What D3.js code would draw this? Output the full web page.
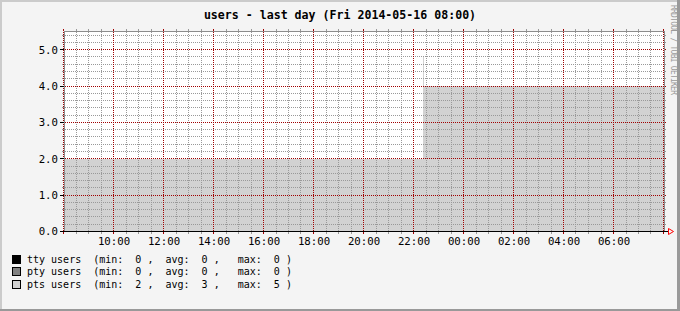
<!DOCTYPE html>
<html lang="en">
<head>
<meta charset="UTF-8">
<title>users - last day</title>
<script src="https://cdn.jsdelivr.net/npm/d3@7"></script>
<style>
    body { margin: 0; background: #fff; }
    svg text { font-family: "DejaVu Sans Mono", monospace; }
</style>
</head>
<body>
<svg id="chart" width="680" height="311"></svg>
<script>
    // samples (step series, value holds until next time)
    var times = ['2014-05-15T08:00', '2014-05-15T22:22', '2014-05-15T22:24:30', '2014-05-16T08:00']
    var ttyUsers = [0, 0, 0, 0]
    var ptyUsers = [0, 0, 0, 0]
    var ptsUsers = [2, 4.8, 4, 4]

    var yTicks = [0, 1, 2, 3, 4, 5]
    var legendNames = ['tty users', 'pty users', 'pts users']
    var legendMin = [0, 0, 2]
    var legendAvg = [0, 0, 3]
    var legendMax = [0, 0, 5]
    var legendColors = ['#000000', '#808080', '#d2d2d2']

    var W = 680, H = 311
    var MINOR = '#999999', MAJOR = '#a00000'
    var svg = d3.select('#chart')

    // canvas + 3d border like rrdtool
    svg.append('rect').attr('width', W).attr('height', H).attr('fill', '#f4f4f4')
    svg.append('rect').attr('x', 0).attr('y', 0).attr('width', W).attr('height', 2).attr('fill', '#cbcbcb')
    svg.append('rect').attr('x', 0).attr('y', 0).attr('width', 2).attr('height', H).attr('fill', '#cbcbcb')
    svg.append('rect').attr('x', 0).attr('y', H - 2).attr('width', W).attr('height', 2).attr('fill', '#999')
    svg.append('rect').attr('x', W - 3).attr('y', 0).attr('width', 3).attr('height', H).attr('fill', '#999')

    var parse = d3.isoParse
    var t0 = parse(times[0]), t1 = parse(times[times.length - 1])
    var x = d3.scaleTime().domain([t0, t1]).range([63.5, 663.5])
    var y = d3.scaleLinear().domain([0, 5.5]).range([231.5, 31.5])

    var rows = times.map(function (t, i) {
        return {t: parse(t), tty: ttyUsers[i], pty: ptyUsers[i], pts: ptsUsers[i]}
    })
    var stack = d3.stack().keys(['tty', 'pty', 'pts'])(rows)

    var g = svg.append('g')
    g.append('rect').attr('x', 64).attr('y', 31).attr('width', 600).attr('height', 200).attr('fill', '#fff')

    var area = d3.area()
        .curve(d3.curveStepAfter)
        .x(function (d) { return x(d.data.t) })
        .y0(function (d) { return y(d[0]) })
        .y1(function (d) { return y(d[1]) })

    g.selectAll('path.series').data(stack).enter().append('path')
        .attr('class', 'series')
        .attr('d', area)
        .attr('fill', function (d, i) { return legendColors[i] })
        .attr('shape-rendering', 'crispEdges')

    // grid
    var minorX = x.ticks(d3.timeMinute.every(30))
    var majorX = x.ticks(d3.timeHour.every(2))
    var minorY = d3.range(0, 5.5001, 0.2).filter(function (v) { return Math.abs(v - Math.round(v)) > 1e-6 })

    var grid = g.append('g').attr('shape-rendering', 'crispEdges')
    function vline(t, color) {
        var px = Math.round(x(t) - 0.5) + 0.5
        grid.append('line').attr('x1', px).attr('x2', px).attr('y1', 32).attr('y2', 231)
            .attr('stroke', color).attr('stroke-dasharray', '1,1')
        grid.append('line').attr('x1', px).attr('x2', px).attr('y1', 29).attr('y2', 31).attr('stroke', color)
        grid.append('line').attr('x1', px).attr('x2', px).attr('y1', 232).attr('y2', 234).attr('stroke', color)
    }
    minorX.forEach(function (t) {
        if (majorX.some(function (m) { return +m === +t })) return
        vline(t, MINOR)
    })
    minorY.forEach(function (v) {
        var py = Math.round(y(v) - 0.5) + 0.5
        grid.append('line').attr('x1', 65).attr('x2', 663).attr('y1', py).attr('y2', py)
            .attr('stroke', MINOR).attr('stroke-dasharray', '1,1')
        grid.append('line').attr('x1', 62).attr('x2', 64).attr('y1', py).attr('y2', py).attr('stroke', MINOR)
        grid.append('line').attr('x1', 664).attr('x2', 666).attr('y1', py).attr('y2', py).attr('stroke', MINOR)
    })
    majorX.forEach(function (t) { vline(t, MAJOR) })
    yTicks.forEach(function (v) {
        var py = Math.round(y(v) - 0.5) + 0.5
        if (v > 0) {
            grid.append('line').attr('x1', 65).attr('x2', 663).attr('y1', py).attr('y2', py)
                .attr('stroke', MAJOR).attr('stroke-dasharray', '1,1')
            grid.append('line').attr('x1', 664).attr('x2', 666).attr('y1', py).attr('y2', py).attr('stroke', MAJOR)
        }
        grid.append('line').attr('x1', 60).attr('x2', 64).attr('y1', py).attr('y2', py).attr('stroke', '#000')
    })

    // frame
    grid.append('path').attr('d', 'M64.5,231V31.5H664.5V231').attr('fill', 'none').attr('stroke', '#8c8c8c')
    grid.append('line').attr('x1', 62).attr('x2', 668).attr('y1', 231.5).attr('y2', 231.5).attr('stroke', '#000')
    svg.append('path').attr('d', 'M668.5,228.5L673.5,231.5L668.5,234.5Z').attr('fill', 'none').attr('stroke', '#ff0000')

    // axis labels
    var fmt = d3.timeFormat('%H:%M')
    majorX.slice(1, -1).forEach(function (t) {
        svg.append('text').attr('x', x(t) + 0.5).attr('y', 244.6).attr('text-anchor', 'middle')
            .attr('font-size', '10.7px').attr('fill', '#000').text(fmt(t))
    })
    yTicks.forEach(function (v) {
        svg.append('text').attr('x', 58).attr('y', y(v) + 3.9).attr('text-anchor', 'end')
            .attr('font-size', '10.7px').attr('fill', '#000').text(d3.format('.1f')(v))
    })

    // title + watermark
    svg.append('text').attr('x', 340).attr('y', 19.2).attr('text-anchor', 'middle')
        .attr('font-size', '11.6px').attr('font-weight', 'bold').attr('fill', '#000')
        .text('users - last day (Fri 2014-05-16 08:00)')
    svg.append('text').attr('transform', 'translate(671,5) rotate(90)')
        .attr('font-size', '8px').attr('fill', '#9a9a9a')
        .attr('textLength', 90).attr('lengthAdjust', 'spacing')
        .text('RRDTOOL / TOBI OETIKER')

    // legend
    legendNames.forEach(function (name, i) {
        var cy = 259 + i * 12.65
        svg.append('rect').attr('x', 12.5).attr('y', Math.round(cy - 4.5) + 0.5).attr('width', 8).attr('height', 8)
            .attr('fill', legendColors[i]).attr('stroke', '#000').attr('shape-rendering', 'crispEdges')
        svg.append('text').attr('x', 27).attr('y', cy + 3.6).attr('font-size', '10px').attr('fill', '#000')
            .attr('xml:space', 'preserve').style('white-space', 'pre')
            .text(name + '  (min:  ' + legendMin[i] + ' ,  avg:  ' + legendAvg[i] +
                ' ,   max:  ' + legendMax[i] + ' )')
    })
</script>
</body>
</html>
